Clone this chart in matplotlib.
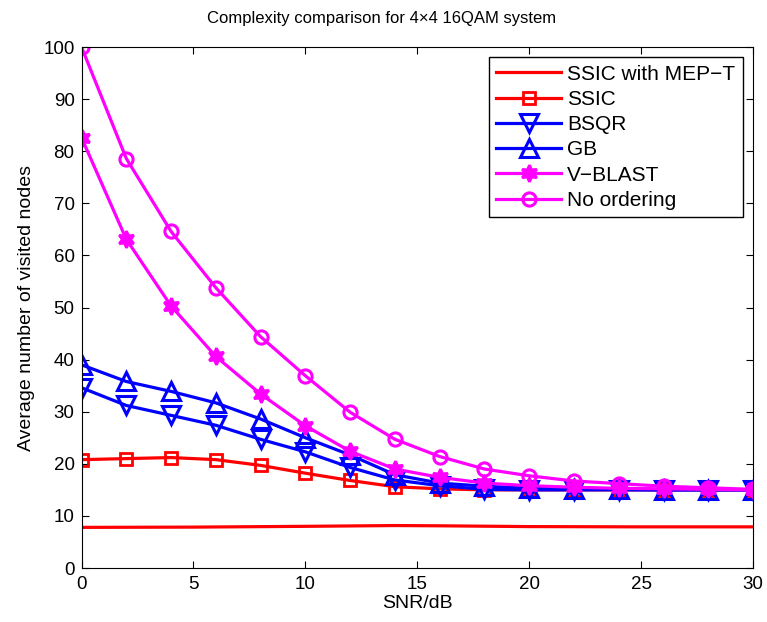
import matplotlib
matplotlib.use("Agg")
import matplotlib.pyplot as plt
import numpy as np

plt.rcParams['font.family'] = ['Liberation Sans', 'DejaVu Sans']

snr = [0, 2, 4, 6, 8, 10, 12, 14, 16, 18, 20, 22, 24, 26, 28, 30]
snr_mept = [0, 5, 10, 14, 16, 20, 25, 30]
mept = [7.8, 7.85, 8.0, 8.15, 8.1, 7.95, 7.9, 7.9]
ssic = [20.8, 21.0, 21.2, 20.8, 19.7, 18.2, 16.8, 15.6, 15.2, 15.0, 15.0, 15.0, 15.0, 15.0, 15.0, 15.0]
bsqr = [34.6, 31.2, 29.3, 27.4, 24.7, 22.3, 19.3, 16.9, 15.8, 15.1, 15.0, 15.0, 15.0, 15.0, 15.0, 15.0]
gb = [39.0, 35.8, 33.9, 31.7, 28.6, 25.0, 21.7, 17.9, 16.3, 15.7, 15.3, 15.2, 15.1, 15.0, 15.0, 15.0]
vblast = [82.6, 63.1, 50.3, 40.6, 33.4, 27.3, 22.4, 19.0, 17.4, 16.3, 15.8, 15.5, 15.3, 15.2, 15.1, 15.0]
noord = [100.0, 78.6, 64.6, 53.8, 44.4, 36.9, 29.9, 24.7, 21.4, 19.0, 17.7, 16.7, 16.2, 15.7, 15.4, 15.1]

fig = plt.figure(figsize=(7.67, 6.22), dpi=100)
ax = fig.add_axes([0.1063, 0.0868, 0.8755, 0.8376])

lw = 2.3
ax.plot(snr_mept, mept, color='red', lw=lw, label='SSIC with MEP\u2212T')
ax.plot(snr, ssic, color='red', lw=lw, marker='s', ms=9, mfc='none', mew=2, label='SSIC')
ax.plot(snr, bsqr, color='blue', lw=lw, marker='v', ms=12.5, mfc='none', mew=2.2, label='BSQR')
ax.plot(snr, gb, color='blue', lw=lw, marker='^', ms=12.5, mfc='none', mew=2.2, label='GB')
ax.plot(snr, vblast, color='magenta', lw=lw, marker=(6, 1, 0), ms=12, mfc='magenta', mew=2, label='V\u2212BLAST')
ax.plot(snr, noord, color='magenta', lw=lw, marker='o', ms=9.5, mfc='none', mew=2.2, label='No ordering')

ax.set_xlim(0, 30)
ax.set_ylim(0, 100)
ax.set_xticks(np.arange(0, 31, 5))
ax.set_yticks(np.arange(0, 101, 10))
ax.tick_params(direction='in', top=True, right=True, length=5, labelsize=13.5)
ax.tick_params(axis='x', pad=6)
ax.tick_params(axis='y', pad=5)
ax.set_xlabel('SNR/dB', fontsize=14, labelpad=1)
ax.set_ylabel('Average number of visited nodes', fontsize=14, labelpad=6)
fig.text(0.497, 0.971, 'Complexity comparison for 4\u00d74 16QAM system', fontsize=12,
         ha='center', va='center')
leg = ax.legend(loc='upper right', fontsize=15, handlelength=3.1, handletextpad=0.3,
                fancybox=False, edgecolor='black', framealpha=1, borderaxespad=0.5,
                labelspacing=0.3, borderpad=0.35)
leg.get_frame().set_linewidth(1.0)

fig.savefig('out.png', dpi=100)
